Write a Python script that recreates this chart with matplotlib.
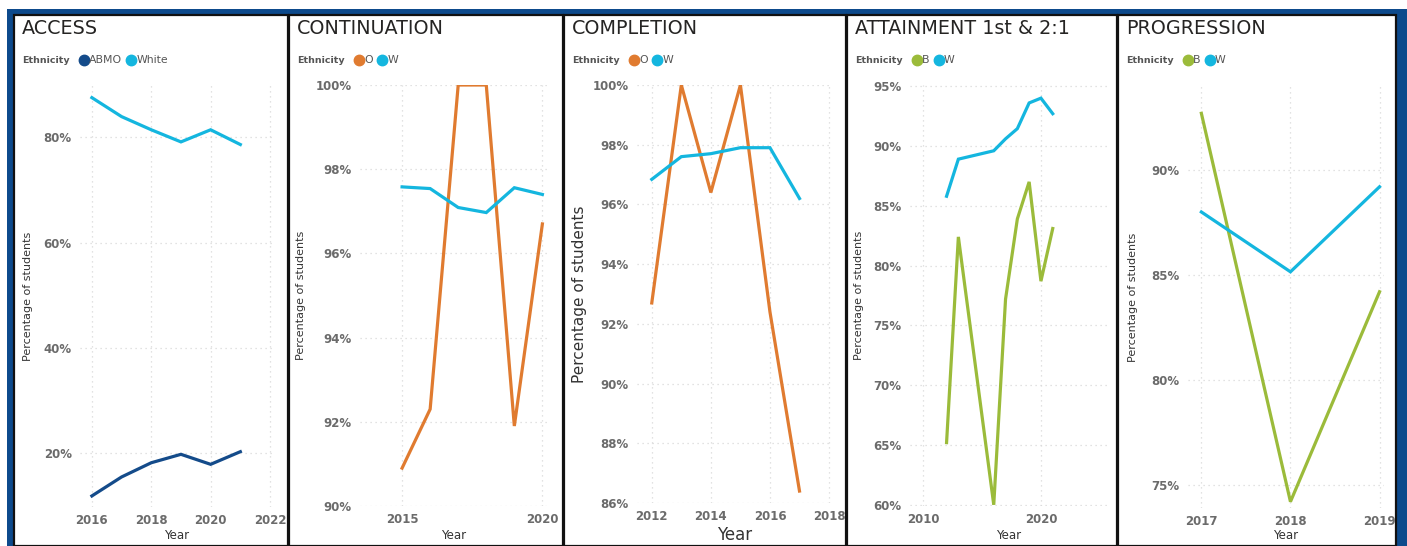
import matplotlib
matplotlib.use("Agg")
import matplotlib.pyplot as plt
from matplotlib.patches import Rectangle
from matplotlib.lines import Line2D
from matplotlib.ticker import FuncFormatter

# ---- data ----
access_years = [2016, 2017, 2018, 2019, 2020, 2021]
access_abmo = [11.9, 15.5, 18.2, 19.8, 17.9, 20.3]
access_white = [87.5, 83.9, 81.4, 79.1, 81.4, 78.6]

cont_years = [2015, 2016, 2017, 2018, 2019, 2020]
cont_o = [90.9, 92.3, 100.0, 100.0, 91.9, 96.7]
cont_w = [97.58, 97.54, 97.09, 96.97, 97.56, 97.40]

comp_years = [2012, 2013, 2014, 2015, 2016, 2017]
comp_o = [92.7, 100.0, 96.4, 100.0, 92.4, 86.4]
comp_w = [96.84, 97.6, 97.7, 97.9, 97.9, 96.2]

att_years = [2012, 2013, 2016, 2017, 2018, 2019, 2020, 2021]
att_b = [65.2, 82.4, 60.0, 77.2, 83.9, 87.0, 78.7, 83.1]
att_w = [85.8, 88.9, 89.6, 90.6, 91.45, 93.6, 94.0, 92.7]

prog_years = [2017, 2018, 2019]
prog_b = [92.7, 74.2, 84.2]
prog_w = [88.0, 85.15, 89.2]

DARK_BLUE = "#144b8a"
CYAN = "#14b6df"
ORANGE = "#e07b30"
GREEN = "#9bbb3a"
FRAME = "#0d4a8c"
TITLE_C = "#252423"
TICK_C = "#6b6b6b"

W, H = 1407, 546
fig = plt.figure(figsize=(W / 100, H / 100), dpi=100)
fig.patch.set_facecolor("white")


def fx(x):
    return x / W


def fy(y):
    return 1 - y / H


# blue frame behind the panels
fig.add_artist(Rectangle((fx(7), 0), fx(W) - fx(7), fy(9), transform=fig.transFigure,
                         facecolor=FRAME, edgecolor="none", zorder=0))

# ylab_x = right edge (px) of the rotated y label
panels = [
    dict(box=(14, 287.5), plot=(80, 273, 85, 507), title="ACCESS",
         years=access_years, series=[("ABMO", access_abmo, DARK_BLUE), ("White", access_white, CYAN)],
         ylim=(9.8, 89.9), yticks=[20, 40, 60, 80], xlim=(2015.6, 2022.1),
         xticks=[2016, 2018, 2020, 2022], ylab_x=33, big=False),
    dict(box=(289, 562.5), plot=(360, 548, 85, 506), title="CONTINUATION",
         years=cont_years, series=[("O", cont_o, ORANGE), ("W", cont_w, CYAN)],
         ylim=(90, 100), yticks=[90, 92, 94, 96, 98, 100], xlim=(2013.5, 2020.2),
         xticks=[2015, 2020], ylab_x=306, big=False),
    dict(box=(564, 845.5), plot=(637, 832, 85, 503), title="COMPLETION",
         years=comp_years, series=[("O", comp_o, ORANGE), ("W", comp_w, CYAN)],
         ylim=(86, 100), yticks=[86, 88, 90, 92, 94, 96, 98, 100], xlim=(2011.5, 2018.1),
         xticks=[2012, 2014, 2016, 2018], ylab_x=587, big=True),
    dict(box=(847, 1116.5), plot=(910, 1107, 85, 506), title="ATTAINMENT 1st & 2:1",
         years=att_years, series=[("B", att_b, GREEN), ("W", att_w, CYAN)],
         ylim=(59.9, 95.1), yticks=[60, 65, 70, 75, 80, 85, 90, 95], xlim=(2008.9, 2025.6),
         xticks=[2010, 2020], ylab_x=864, big=False),
    dict(box=(1118, 1396), plot=(1188, 1384, 86, 508), title="PROGRESSION",
         years=prog_years, series=[("B", prog_b, GREEN), ("W", prog_w, CYAN)],
         ylim=(73.9, 94.0), yticks=[75, 80, 85, 90], xlim=(2016.85, 2019.05),
         xticks=[2017, 2018, 2019], ylab_x=1138, big=False),
]

fig.canvas.draw()
renderer = fig.canvas.get_renderer()

for p in panels:
    x0, x1 = p["box"]
    fig.add_artist(Rectangle((fx(x0), 0), fx(x1) - fx(x0), fy(15), transform=fig.transFigure,
                             facecolor="white", edgecolor="#111111", linewidth=1.6, zorder=1))

    l, r, t, b = p["plot"]
    ax = fig.add_axes([fx(l), fy(b), fx(r) - fx(l), fy(t) - fy(b)], zorder=2)
    ax.patch.set_alpha(0)
    for s in ax.spines.values():
        s.set_visible(False)

    for name, vals, col in p["series"]:
        ax.plot(p["years"], vals, color=col, linewidth=2.3, solid_joinstyle="miter")

    ax.set_xlim(*p["xlim"])
    ax.set_ylim(*p["ylim"])
    ax.set_xticks(p["xticks"])
    ax.set_yticks(p["yticks"])
    ax.yaxis.set_major_formatter(FuncFormatter(lambda v, _: f"{v:.0f}%"))
    ax.grid(True, color="#d9d9d9", linestyle=(0, (1, 3)), linewidth=0.9)
    ax.set_axisbelow(True)
    ax.tick_params(length=0, labelsize=8.5, labelcolor=TICK_C, pad=6)
    for lab in ax.get_xticklabels() + ax.get_yticklabels():
        lab.set_fontweight("semibold")
    ax.tick_params(axis="x", pad=5)

    big = p["big"]
    ax.set_xlabel("Year", fontsize=12 if big else 8.5, color="#333333")
    label_top = 526 if big else 529
    ax.xaxis.set_label_coords(0.5, -(label_top - b) / (b - t))
    ax.set_ylabel("Percentage of students", fontsize=11 if big else 8, color="#333333")
    ax.yaxis.set_label_coords((p["ylab_x"] - l) / (r - l), 0.5)

    # title
    fig.text(fx(x0 + 8), fy(28), p["title"], fontsize=13.8, color=TITLE_C, va="center", ha="left")

    # legend row: bold "Ethnicity" then dot + label per series
    tx = x0 + 8
    ty = 60
    t0 = fig.text(fx(tx), fy(ty), "Ethnicity", fontsize=6.8, fontweight="bold", color="#555555",
                  va="center", ha="left")
    tx += t0.get_window_extent(renderer).width + 9
    for name, vals, col in p["series"]:
        fig.add_artist(Line2D([fx(tx + 5)], [fy(ty)], marker="o", markersize=7.5, color=col,
                              transform=fig.transFigure, zorder=3))
        tt = fig.text(fx(tx + 10.5), fy(ty), name, fontsize=7.8, color="#555555", va="center", ha="left")
        tx += 10.5 + tt.get_window_extent(renderer).width + 4

fig.savefig("out.png", dpi=100, facecolor=fig.get_facecolor())
